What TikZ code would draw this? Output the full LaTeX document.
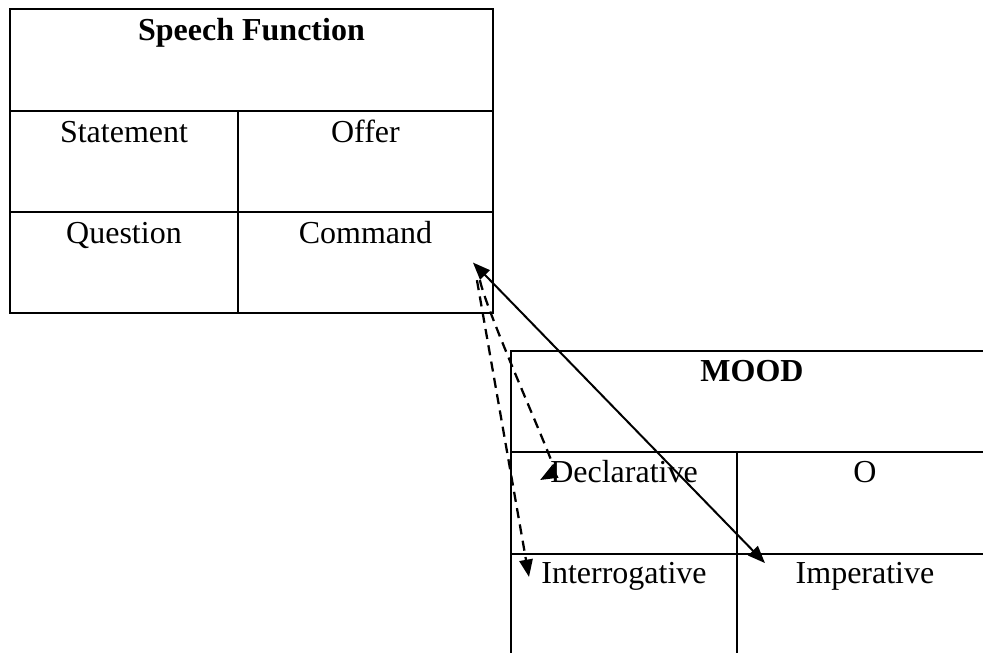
\documentclass[tikz,border=0pt]{standalone}
\usepackage{fontspec}
\setmainfont{Liberation Serif}
\usetikzlibrary{arrows.meta}

\begin{document}
\begin{tikzpicture}[x=0.375pt, y=-0.375pt, line width=0.75pt,
    font=\fontsize{12}{14}\selectfont,
    >={Triangle[length=6.5pt,width=5pt]},
    cell/.style={draw, inner sep=0pt, outer sep=0pt, anchor=north west, minimum height=37.9pt},
    txt/.style={anchor=base, inner sep=0pt},
    dash line/.style={line width=0.85pt, dash pattern=on 3.8pt off 2.4pt}]

    \useasboundingbox (0,0) rectangle (983,652);

    % Left table: Speech Function
    \node[cell, minimum width=181.1pt, minimum height=38.25pt] (speech) at (10,9) {};
    \node[cell, minimum width=85.5pt] (statement) at (10,111) {};
    \node[cell, minimum width=95.6pt] (offer) at (238,111) {};
    \node[cell, minimum width=85.5pt] (question) at (10,212) {};
    \node[cell, minimum width=95.6pt] (command) at (238,212) {};

    % Right table: MOOD (runs past the page edge)
    \node[cell, minimum width=180.75pt] (mood) at (511,351) {};
    \node[cell, minimum width=84.75pt, minimum height=38.25pt] (declarative) at (511,452) {};
    \node[cell, minimum width=96pt, minimum height=38.25pt] (o) at (737,452) {};
    \node[cell, minimum width=84.75pt] (interrogative) at (511,554) {};
    \node[cell, minimum width=96pt] (imperative) at (737,554) {};

    % Labels (near the top of each cell)
    \node[txt] (t-speech) at ([yshift=-11.8pt]speech.north) {\textbf{Speech Function}};
    \node[txt] (t-statement) at ([yshift=-11.8pt]statement.north) {Statement};
    \node[txt] (t-offer) at ([yshift=-11.8pt]offer.north) {Offer};
    \node[txt] (t-question) at ([yshift=-11.8pt]question.north) {Question};
    \node[txt] (t-command) at ([yshift=-11.8pt]command.north) {Command};
    \node[txt] (t-mood) at ([yshift=-11.5pt]mood.north) {\textbf{MOOD}};
    \node[txt] (t-declarative) at ([yshift=-11.5pt]declarative.north) {Declarative};
    \node[txt] (t-o) at ([yshift=-11.5pt]o.north) {O};
    \node[txt] (t-interrogative) at ([yshift=-11.2pt]interrogative.north) {Interrogative};
    \node[txt] (t-imperative) at ([yshift=-11.2pt]imperative.north) {Imperative};

    % Arrow ends
    \coordinate (s1) at ([xshift=-7.5pt]command.east);
    \coordinate (s2) at ([xshift=10.5pt,yshift=-3.4pt]imperative.north west);
    \coordinate (d1) at ([xshift=-4.9pt,yshift=-6.6pt]command.east);
    \coordinate (d2) at ([xshift=10.9pt,yshift=-10.5pt]declarative.north west);
    \coordinate (i1) at ([xshift=-6pt,yshift=-6.6pt]command.east);
    \coordinate (i2) at ([xshift=6.75pt,yshift=-8.6pt]interrogative.north west);

    % Connectors
    \draw[<->] (s1) -- (s2);
    \draw[dash line, ->] (d1) .. controls +(8,36) and +(18,-10) .. (d2);
    \draw[dash line, ->] (i1) -- (i2);

\end{tikzpicture}
\end{document}
